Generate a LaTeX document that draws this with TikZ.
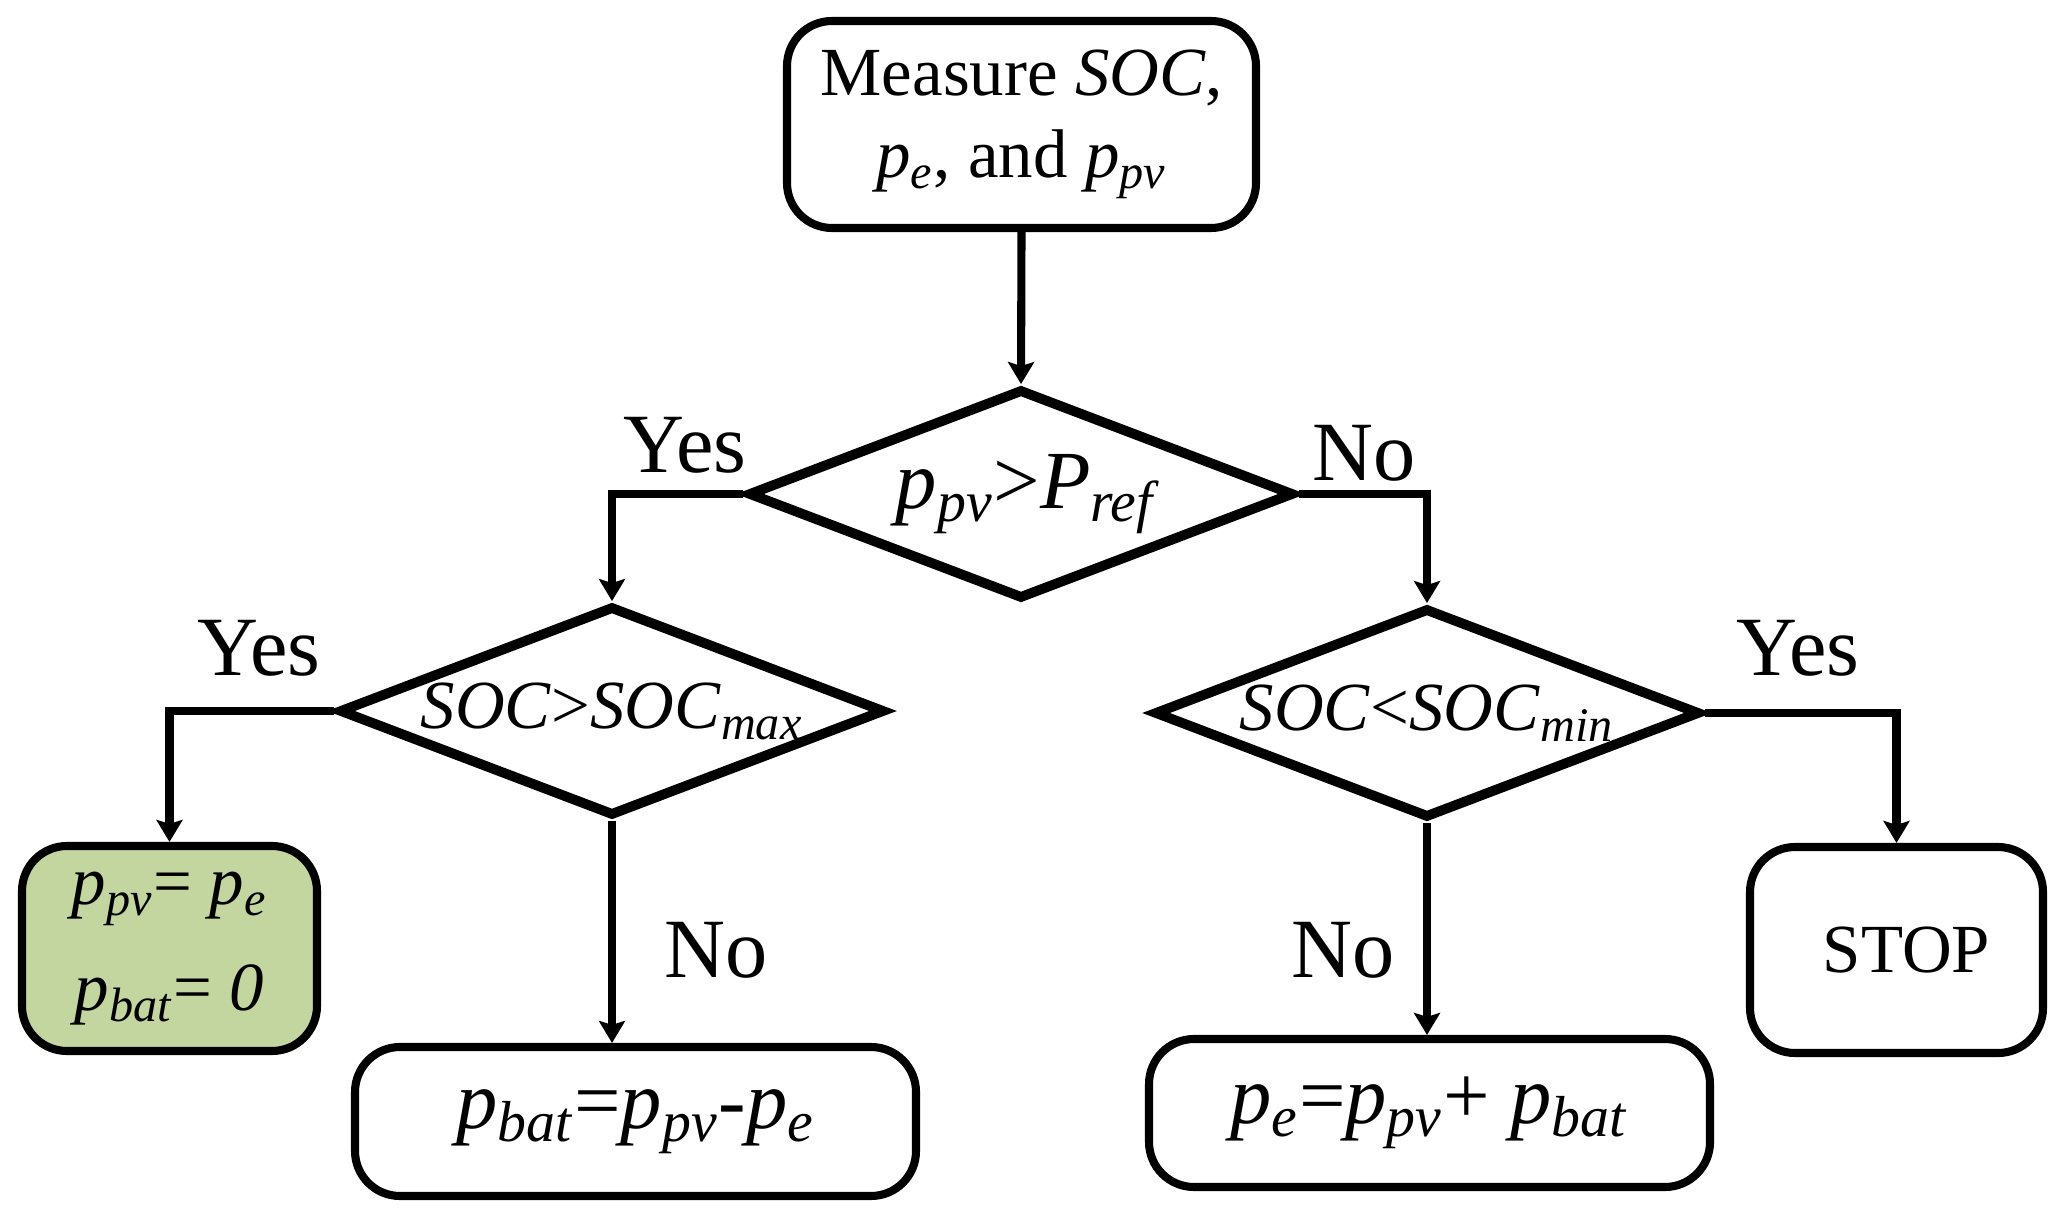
\documentclass[tikz,border=0pt]{standalone}
\usepackage{fontspec}
\setmainfont{Liberation Serif}
\usepackage{tikz}
\usetikzlibrary{shapes.geometric,arrows.meta}
\definecolor{okgreen}{HTML}{C4D6A0}
\newcommand{\vsub}[2]{\textit{#1}\textsubscript{\textit{#2}}}
\tikzset{
  box/.style={draw, line width=2.3pt, rounded corners=4.5mm, align=center, inner sep=0pt, font=\fontsize{19.6}{23.5}\selectfont},
  bigtext/.style={font=\fontsize{23.5}{28}\selectfont},
  decision/.style={diamond, draw, line width=2.8pt, aspect=2.6, inner sep=0pt, minimum width=54.6mm, minimum height=21mm, font=\fontsize{19.6}{23.5}\selectfont},
  lab/.style={font=\fontsize{24}{28}\selectfont},
  arr/.style={line width=2.3pt, -{Stealth[length=2.2mm, width=2.6mm, inset=0.4mm]}}
}

\begin{document}
\begin{tikzpicture}[x=0.1mm, y=-0.1mm]
\useasboundingbox (0,0) rectangle (2063,1218);

\node[box, minimum width=46.9mm, minimum height=20.7mm] (meas) at (1021.5,124.5) {Measure \textit{SOC},\\\vsub{p}{e}, and \vsub{p}{pv}};

\node[decision, bigtext] (pvcheck) at (1021,494) {\makebox[0pt]{\hspace{1.5mm}\vsub{p}{pv}>\vsub{P}{ref}}};
\node[decision] (socmax) at (612,711) {\makebox[0pt]{\textit{SOC}>\vsub{SOC}{max}}};
\node[decision] (socmin) at (1427,713) {\makebox[0pt]{\textit{SOC}<\vsub{SOC}{min}}};

\node[box, fill=okgreen, minimum width=29.5mm, minimum height=20.5mm, font=\fontsize{19.6}{30}\selectfont] (hold) at (169.5,948.5) {\vsub{p}{pv}= \vsub{p}{e}\\\vsub{p}{bat}= \textit{0}};
\node[box, bigtext, minimum width=56.1mm, minimum height=14.9mm] (charge) at (635.5,1121.5) {\vsub{p}{bat}=\vsub{p}{pv}-\vsub{p}{e}};
\node[box, bigtext, minimum width=56.1mm, minimum height=14.8mm] (discharge) at (1429.5,1113) {\vsub{p}{e}=\vsub{p}{pv}+ \vsub{p}{bat}};
\node[box, minimum width=29.3mm, minimum height=20.6mm] (stop) at (1896.5,950) {\hspace{2mm}STOP};

\node[lab] at (685,445) {Yes};
\node[lab] at (1364,453) {No};
\node[lab] at (259,648) {Yes};
\node[lab] at (716,950) {No};
\node[lab] at (1798,648) {Yes};
\node[lab] at (1343,950) {No};

\draw[arr] (meas.south) -- (pvcheck.north);
\draw[arr] (pvcheck.west) -| (socmax.north);
\draw[arr] (pvcheck.east) -| (socmin.north);
\draw[arr] (socmax.west) -| (hold.north);
\draw[arr] (socmax.south) -- (socmax.south |- charge.north);
\draw[arr] (socmin.east) -| (stop.north);
\draw[arr] (socmin.south) -- (socmin.south |- discharge.north);
\end{tikzpicture}
\end{document}
